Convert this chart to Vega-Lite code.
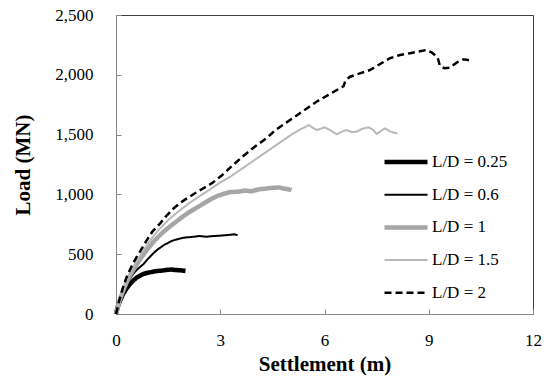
{
  "$schema": "https://vega.github.io/schema/vega-lite/v6.json",
  "autosize": "none",
  "width": 417,
  "height": 299,
  "padding": {"left": 116, "top": 15, "right": 19, "bottom": 62},
  "background": "white",
  "config": {
    "font": "Liberation Serif",
    "view": {"stroke": "#404040", "strokeWidth": 1},
    "axis": {"grid": false, "domainColor": "#888888", "tickColor": "#888888", "labelFont": "Liberation Serif", "titleFont": "Liberation Serif", "labelColor": "#000000", "titleColor": "#000000"}
  },
  "data": {"values": [
    {"s":"L/D = 0.25","x":0,"y":0},{"s":"L/D = 0.25","x":0.05,"y":60},{"s":"L/D = 0.25","x":0.1,"y":100},{"s":"L/D = 0.25","x":0.2,"y":165},{"s":"L/D = 0.25","x":0.3,"y":212},{"s":"L/D = 0.25","x":0.4,"y":250},{"s":"L/D = 0.25","x":0.5,"y":280},{"s":"L/D = 0.25","x":0.6,"y":305},{"s":"L/D = 0.25","x":0.7,"y":322},{"s":"L/D = 0.25","x":0.8,"y":336},{"s":"L/D = 0.25","x":0.9,"y":344},{"s":"L/D = 0.25","x":1.0,"y":350},{"s":"L/D = 0.25","x":1.1,"y":356},{"s":"L/D = 0.25","x":1.2,"y":360},{"s":"L/D = 0.25","x":1.3,"y":362},{"s":"L/D = 0.25","x":1.4,"y":366},{"s":"L/D = 0.25","x":1.5,"y":370},{"s":"L/D = 0.25","x":1.6,"y":372},{"s":"L/D = 0.25","x":1.7,"y":368},{"s":"L/D = 0.25","x":1.8,"y":366},{"s":"L/D = 0.25","x":1.9,"y":364},{"s":"L/D = 0.25","x":2.0,"y":360},
    {"s":"L/D = 0.6","x":0,"y":0},{"s":"L/D = 0.6","x":0.05,"y":60},{"s":"L/D = 0.6","x":0.1,"y":105},{"s":"L/D = 0.6","x":0.2,"y":180},{"s":"L/D = 0.6","x":0.3,"y":240},{"s":"L/D = 0.6","x":0.4,"y":292},{"s":"L/D = 0.6","x":0.5,"y":338},{"s":"L/D = 0.6","x":0.6,"y":370},{"s":"L/D = 0.6","x":0.7,"y":395},{"s":"L/D = 0.6","x":0.8,"y":420},{"s":"L/D = 0.6","x":0.9,"y":455},{"s":"L/D = 0.6","x":1.0,"y":485},{"s":"L/D = 0.6","x":1.1,"y":515},{"s":"L/D = 0.6","x":1.2,"y":540},{"s":"L/D = 0.6","x":1.3,"y":560},{"s":"L/D = 0.6","x":1.4,"y":580},{"s":"L/D = 0.6","x":1.5,"y":595},{"s":"L/D = 0.6","x":1.6,"y":610},{"s":"L/D = 0.6","x":1.7,"y":620},{"s":"L/D = 0.6","x":1.8,"y":628},{"s":"L/D = 0.6","x":1.9,"y":635},{"s":"L/D = 0.6","x":2.0,"y":640},{"s":"L/D = 0.6","x":2.2,"y":645},{"s":"L/D = 0.6","x":2.4,"y":652},{"s":"L/D = 0.6","x":2.6,"y":646},{"s":"L/D = 0.6","x":2.8,"y":652},{"s":"L/D = 0.6","x":3.0,"y":655},{"s":"L/D = 0.6","x":3.2,"y":660},{"s":"L/D = 0.6","x":3.4,"y":666},{"s":"L/D = 0.6","x":3.5,"y":660},
    {"s":"L/D = 1","x":0,"y":0},{"s":"L/D = 1","x":0.1,"y":110},{"s":"L/D = 1","x":0.2,"y":190},{"s":"L/D = 1","x":0.3,"y":260},{"s":"L/D = 1","x":0.4,"y":320},{"s":"L/D = 1","x":0.5,"y":370},{"s":"L/D = 1","x":0.7,"y":460},{"s":"L/D = 1","x":0.9,"y":540},{"s":"L/D = 1","x":1.1,"y":610},{"s":"L/D = 1","x":1.3,"y":670},{"s":"L/D = 1","x":1.5,"y":720},{"s":"L/D = 1","x":1.7,"y":765},{"s":"L/D = 1","x":1.9,"y":810},{"s":"L/D = 1","x":2.1,"y":850},{"s":"L/D = 1","x":2.3,"y":885},{"s":"L/D = 1","x":2.5,"y":920},{"s":"L/D = 1","x":2.7,"y":955},{"s":"L/D = 1","x":2.9,"y":985},{"s":"L/D = 1","x":3.1,"y":1005},{"s":"L/D = 1","x":3.3,"y":1020},{"s":"L/D = 1","x":3.5,"y":1022},{"s":"L/D = 1","x":3.7,"y":1032},{"s":"L/D = 1","x":3.9,"y":1026},{"s":"L/D = 1","x":4.1,"y":1042},{"s":"L/D = 1","x":4.3,"y":1048},{"s":"L/D = 1","x":4.5,"y":1055},{"s":"L/D = 1","x":4.7,"y":1058},{"s":"L/D = 1","x":4.8,"y":1050},{"s":"L/D = 1","x":4.9,"y":1046},{"s":"L/D = 1","x":5.0,"y":1040},{"s":"L/D = 1","x":5.05,"y":1035},
    {"s":"L/D = 1.5","x":0,"y":0},{"s":"L/D = 1.5","x":0.1,"y":115},{"s":"L/D = 1.5","x":0.2,"y":200},{"s":"L/D = 1.5","x":0.3,"y":275},{"s":"L/D = 1.5","x":0.4,"y":340},{"s":"L/D = 1.5","x":0.5,"y":396},{"s":"L/D = 1.5","x":0.7,"y":490},{"s":"L/D = 1.5","x":0.9,"y":580},{"s":"L/D = 1.5","x":1.1,"y":660},{"s":"L/D = 1.5","x":1.3,"y":725},{"s":"L/D = 1.5","x":1.5,"y":785},{"s":"L/D = 1.5","x":1.7,"y":835},{"s":"L/D = 1.5","x":1.9,"y":880},{"s":"L/D = 1.5","x":2.1,"y":925},{"s":"L/D = 1.5","x":2.4,"y":985},{"s":"L/D = 1.5","x":2.7,"y":1040},{"s":"L/D = 1.5","x":3.0,"y":1100},{"s":"L/D = 1.5","x":3.3,"y":1150},{"s":"L/D = 1.5","x":3.6,"y":1210},{"s":"L/D = 1.5","x":3.9,"y":1270},{"s":"L/D = 1.5","x":4.2,"y":1330},{"s":"L/D = 1.5","x":4.5,"y":1390},{"s":"L/D = 1.5","x":4.8,"y":1450},{"s":"L/D = 1.5","x":5.1,"y":1510},{"s":"L/D = 1.5","x":5.35,"y":1550},{"s":"L/D = 1.5","x":5.55,"y":1580},{"s":"L/D = 1.5","x":5.65,"y":1560},{"s":"L/D = 1.5","x":5.77,"y":1538},{"s":"L/D = 1.5","x":5.9,"y":1550},{"s":"L/D = 1.5","x":6.0,"y":1561},{"s":"L/D = 1.5","x":6.15,"y":1540},{"s":"L/D = 1.5","x":6.35,"y":1502},{"s":"L/D = 1.5","x":6.5,"y":1525},{"s":"L/D = 1.5","x":6.63,"y":1538},{"s":"L/D = 1.5","x":6.8,"y":1520},{"s":"L/D = 1.5","x":6.92,"y":1524},{"s":"L/D = 1.5","x":7.1,"y":1550},{"s":"L/D = 1.5","x":7.26,"y":1561},{"s":"L/D = 1.5","x":7.4,"y":1540},{"s":"L/D = 1.5","x":7.5,"y":1505},{"s":"L/D = 1.5","x":7.62,"y":1530},{"s":"L/D = 1.5","x":7.74,"y":1552},{"s":"L/D = 1.5","x":7.9,"y":1525},{"s":"L/D = 1.5","x":8.07,"y":1511},{"s":"L/D = 1.5","x":8.1,"y":1510},
    {"s":"L/D = 2","x":0,"y":0},{"s":"L/D = 2","x":0.1,"y":120},{"s":"L/D = 2","x":0.2,"y":220},{"s":"L/D = 2","x":0.31,"y":312},{"s":"L/D = 2","x":0.45,"y":400},{"s":"L/D = 2","x":0.6,"y":479},{"s":"L/D = 2","x":0.75,"y":550},{"s":"L/D = 2","x":0.89,"y":619},{"s":"L/D = 2","x":1.05,"y":690},{"s":"L/D = 2","x":1.27,"y":758},{"s":"L/D = 2","x":1.45,"y":820},{"s":"L/D = 2","x":1.66,"y":884},{"s":"L/D = 2","x":1.85,"y":930},{"s":"L/D = 2","x":2.04,"y":967},{"s":"L/D = 2","x":2.25,"y":1005},{"s":"L/D = 2","x":2.43,"y":1037},{"s":"L/D = 2","x":2.76,"y":1093},{"s":"L/D = 2","x":3.05,"y":1160},{"s":"L/D = 2","x":3.37,"y":1246},{"s":"L/D = 2","x":3.7,"y":1330},{"s":"L/D = 2","x":4.0,"y":1400},{"s":"L/D = 2","x":4.33,"y":1470},{"s":"L/D = 2","x":4.6,"y":1540},{"s":"L/D = 2","x":4.9,"y":1600},{"s":"L/D = 2","x":5.2,"y":1660},{"s":"L/D = 2","x":5.5,"y":1720},{"s":"L/D = 2","x":5.77,"y":1775},{"s":"L/D = 2","x":6.1,"y":1830},{"s":"L/D = 2","x":6.44,"y":1887},{"s":"L/D = 2","x":6.55,"y":1905},{"s":"L/D = 2","x":6.6,"y":1950},{"s":"L/D = 2","x":6.73,"y":1984},{"s":"L/D = 2","x":7.0,"y":2010},{"s":"L/D = 2","x":7.31,"y":2040},{"s":"L/D = 2","x":7.6,"y":2090},{"s":"L/D = 2","x":7.88,"y":2138},{"s":"L/D = 2","x":8.17,"y":2166},{"s":"L/D = 2","x":8.46,"y":2180},{"s":"L/D = 2","x":8.7,"y":2195},{"s":"L/D = 2","x":8.92,"y":2207},{"s":"L/D = 2","x":9.08,"y":2188},{"s":"L/D = 2","x":9.2,"y":2160},{"s":"L/D = 2","x":9.27,"y":2130},{"s":"L/D = 2","x":9.32,"y":2075},{"s":"L/D = 2","x":9.45,"y":2055},{"s":"L/D = 2","x":9.6,"y":2060},{"s":"L/D = 2","x":9.8,"y":2101},{"s":"L/D = 2","x":10.0,"y":2129},{"s":"L/D = 2","x":10.1,"y":2125},{"s":"L/D = 2","x":10.2,"y":2118}
  ]},
  "mark": {"type": "line", "strokeCap": "butt", "strokeJoin": "round"},
  "encoding": {
    "x": {"field": "x", "type": "quantitative", "scale": {"domain": [0, 12], "nice": false},
      "axis": {"title": "Settlement (m)", "values": [0, 3, 6, 9, 12], "tickSize": -5, "labelPadding": 23, "labelFontSize": 17, "titleFontSize": 21, "titleFontWeight": "bold", "titlePadding": 5, "labelFlush": false}},
    "y": {"field": "y", "type": "quantitative", "scale": {"domain": [0, 2500], "nice": false},
      "axis": {"title": "Load (MN)", "values": [0, 500, 1000, 1500, 2000, 2500], "format": ",d", "tickSize": -5, "labelPadding": 28, "labelFontSize": 17, "titleFontSize": 21, "titleFontWeight": "bold", "titlePadding": 21, "labelFlush": false}},
    "color": {"field": "s", "type": "nominal", "title": null,
      "scale": {"domain": ["L/D = 0.25", "L/D = 0.6", "L/D = 1", "L/D = 1.5", "L/D = 2"], "range": ["#000000", "#000000", "#a6a6a6", "#b8b8b8", "#000000"]},
      "legend": {"orient": "none", "legendX": 266, "legendY": 137, "symbolType": "stroke", "symbolSize": 1849, "clipHeight": 20, "rowPadding": 12.7, "labelFontSize": 17, "labelFont": "Liberation Serif", "labelColor": "#000000", "labelOffset": 2}},
    "strokeWidth": {"field": "s", "type": "nominal", "title": null,
      "scale": {"type": "ordinal", "domain": ["L/D = 0.25", "L/D = 0.6", "L/D = 1", "L/D = 1.5", "L/D = 2"], "range": [4.5, 2, 4.5, 2, 2.5]}},
    "strokeDash": {"field": "s", "type": "nominal", "title": null,
      "scale": {"domain": ["L/D = 0.25", "L/D = 0.6", "L/D = 1", "L/D = 1.5", "L/D = 2"], "range": [[1, 0], [1, 0], [1, 0], [1, 0], [7, 4]]}}
  }
}
